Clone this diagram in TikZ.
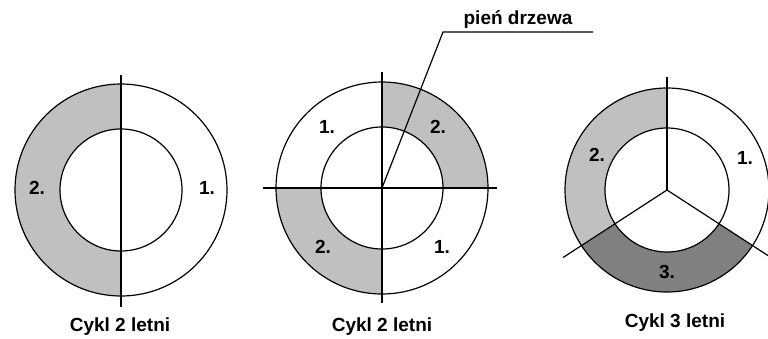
\documentclass[tikz,border=0pt]{standalone}
\usepackage{fontspec}
\setmainfont{Liberation Sans}
\usetikzlibrary{calc}
\definecolor{lightg}{HTML}{C0C0C0}
\definecolor{darkg}{HTML}{808080}
\begin{document}
\begin{tikzpicture}[x=1pt,y=1pt,
  ln/.style={line width=1.2pt,black},
  lbl/.style={font=\fontsize{19}{22}\selectfont\bfseries,inner sep=0pt},
  captxt/.style={font=\fontsize{19}{22}\selectfont\bfseries,inner sep=0pt}]
\useasboundingbox (0,0) rectangle (768,338);
% ---------- Circle 1 ----------
\coordinate (c1) at (121,148);
\fill[lightg] ($(c1)+(0,106)$) arc (90:270:106) -- ($(c1)+(0,-61)$) arc (270:90:61) -- cycle;
\draw[ln] (c1) circle (106);
\draw[ln] (c1) circle (61);
\coordinate (v1t) at (121,263);
\coordinate (v1b) at (121,31);
\draw[ln] (v1t) -- (v1b);
\node[lbl] (l1a) at (37,150) {2.};
\node[lbl] (l1b) at (207,150) {1.};
\node[captxt] (cap1) at (120,11) {Cykl 2 letni};
% ---------- Circle 2 ----------
\coordinate (c2) at (382,150);
\fill[lightg] ($(c2)+(106,0)$) arc (0:90:106) -- ($(c2)+(0,61)$) arc (90:0:61) -- cycle;
\fill[lightg] ($(c2)+(-106,0)$) arc (180:270:106) -- ($(c2)+(0,-61)$) arc (270:180:61) -- cycle;
\draw[ln] (c2) circle (106);
\draw[ln] (c2) circle (61);
\coordinate (v2t) at (382,266);
\coordinate (v2b) at (382,35);
\coordinate (h2l) at (263,150);
\coordinate (h2r) at (497,150);
\draw[ln] (v2t) -- (v2b);
\draw[ln] (h2l) -- (h2r);
\node[lbl] (l2a) at (327,211) {1.};
\node[lbl] (l2b) at (438,211) {2.};
\node[lbl] (l2c) at (323,91) {2.};
\node[lbl] (l2d) at (442,91) {1.};
\node[captxt] (cap2) at (382,11) {Cykl 2 letni};
% leader
\coordinate (k1) at (443,306);
\coordinate (k2) at (593,306);
\draw[ln] (c2) -- (k1) -- (k2);
\node[captxt,anchor=base] (pien) at (518,313) {pień drzewa};
% ---------- Circle 3 ----------
\coordinate (c3) at (667,148);
\fill[lightg] ($(c3)+(90:102)$) arc (90:213:102) -- ($(c3)+(213:62)$) arc (213:90:62) -- cycle;
\fill[darkg] ($(c3)+(213:102)$) arc (213:327:102) -- ($(c3)+(327:62)$) arc (327:213:62) -- cycle;
\draw[ln] (c3) circle (102);
\draw[ln] (c3) circle (62);
\coordinate (v3t) at (667,261);
\coordinate (e3l) at ($(c3)+(213:124)$);
\coordinate (e3r) at ($(c3)+(327:124)$);
\draw[ln] (v3t) -- (c3);
\draw[ln] (e3l) -- (c3) -- (e3r);
\node[lbl] (l3a) at (597,183) {2.};
\node[lbl] (l3b) at (745,180) {1.};
\node[lbl] (l3c) at (667,66) {3.};
\node[captxt] (cap3) at (675,15) {Cykl 3 letni};
\end{tikzpicture}
\end{document}
